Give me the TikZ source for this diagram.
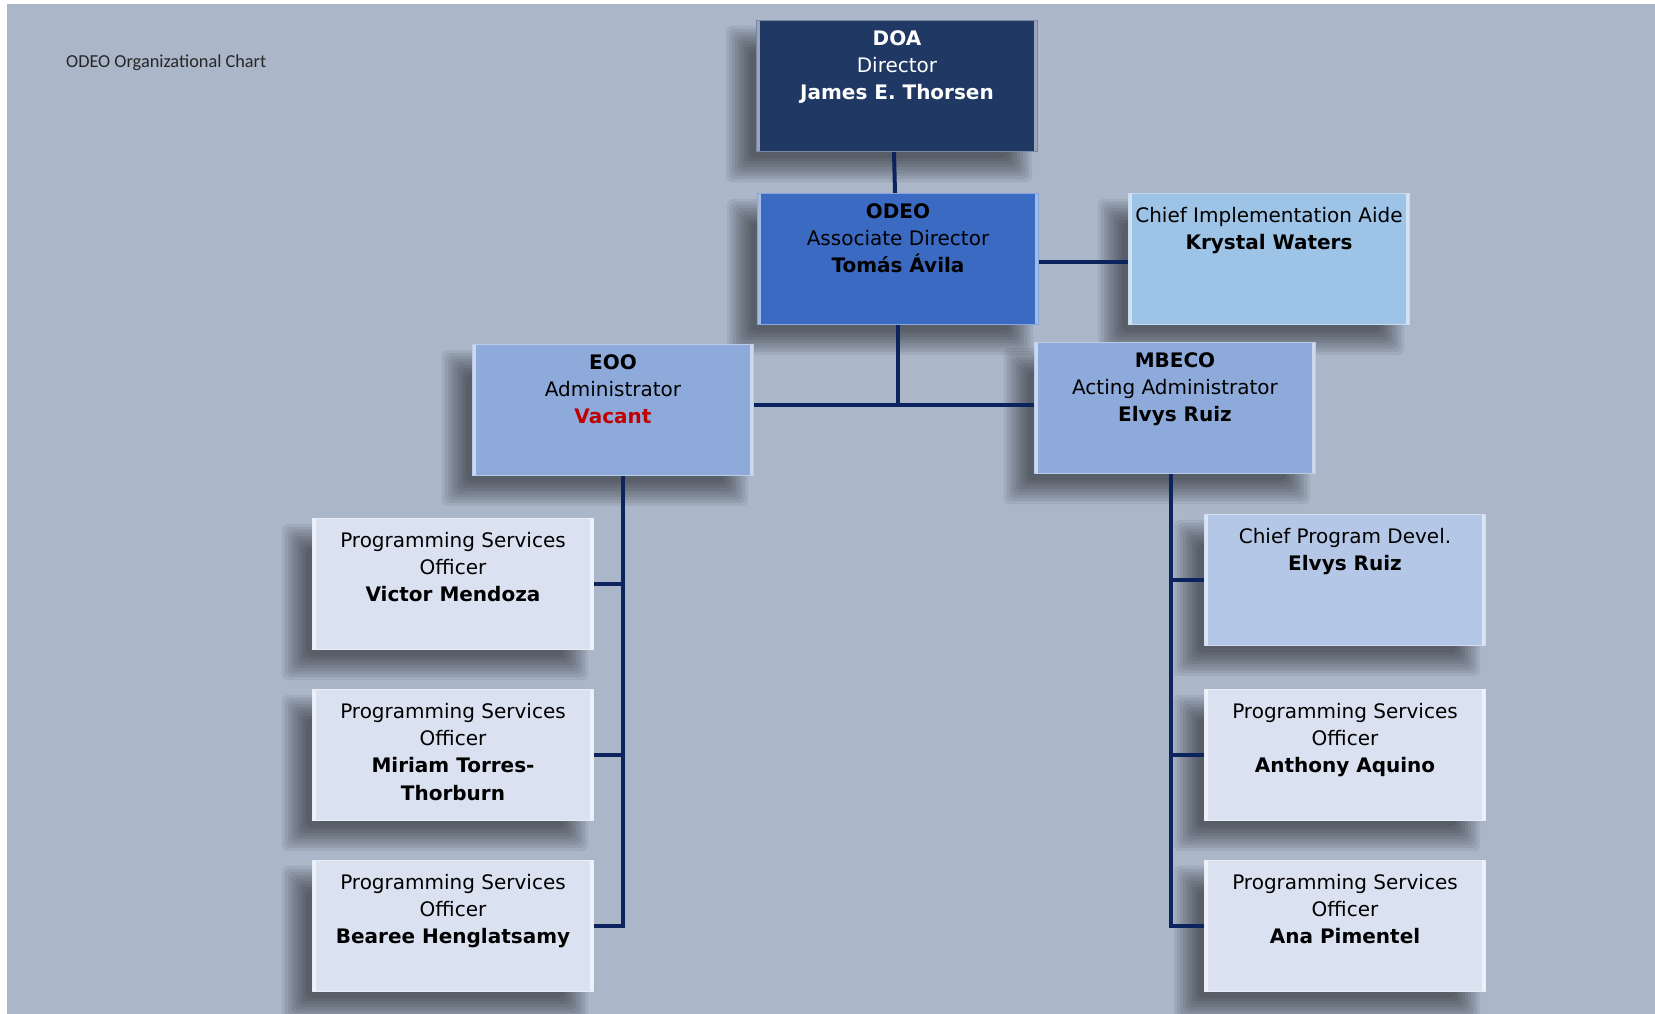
\documentclass[tikz,border=0pt]{standalone}
\usepackage{fontspec}
\setmainfont{DejaVu Sans}
\newfontfamily\titlefont{Carlito}
\usetikzlibrary{backgrounds}
\definecolor{pagebg}{RGB}{171,183,201}
\definecolor{navy}{RGB}{32,56,100}
\definecolor{midblue}{RGB}{59,106,194}
\definecolor{skyblue}{RGB}{157,195,230}
\definecolor{softblue}{RGB}{142,170,219}
\definecolor{paleblue}{RGB}{180,199,231}
\definecolor{mistblue}{RGB}{218,225,240}
\definecolor{linkblue}{RGB}{12,36,94}
\definecolor{vacantred}{RGB}{192,0,0}
\newcommand{\boxtext}[2][0pt]{\parbox[c][120pt][t]{274pt}{\centering\vspace*{#1}\strut#2\par}}

\begin{document}
\begin{tikzpicture}[x=1pt, y=-1pt,
  orgbox/.style={fill=#1, draw=#1!60!white, line width=1.2pt, minimum width=281pt, minimum height=131pt, inner sep=0pt,
    font=\fontsize{20}{27.4}\selectfont,
    path picture={
      \fill[white, opacity=0.55] (path picture bounding box.south west) rectangle ++(3.5pt,131pt);
      \fill[white, opacity=0.55] (path picture bounding box.south east) rectangle ++(-3.5pt,131pt);
    }},
  shade/.style={fill=black, opacity=0.065, rounded corners=6pt},
  link/.style={draw=linkblue, line width=4pt}
]
\useasboundingbox (0,0) rectangle (1655,1014);
\begin{scope}[on background layer]
  \fill[white] (0,0) rectangle (1655,1014);
  \fill[pagebg] (7,4) rectangle (1655,1014);
\end{scope}
\node[anchor=west, inner sep=0pt, font=\titlefont\fontsize{18.3}{22}\selectfont, text=black!85] (title) at (66,63) {ODEO Organizational Chart};

\node[orgbox=navy, text=white] (doa) at (897,86) {\boxtext{\textbf{DOA}\\Director\\\textbf{James E. Thorsen}}};
\node[orgbox=midblue] (odeo) at (898,259) {\boxtext{\textbf{ODEO}\\Associate Director\\\textbf{Tomás Ávila}}};
\node[orgbox=skyblue] (aide) at (1269,259) {\boxtext[4pt]{Chief Implementation Aide\\\textbf{Krystal Waters}}};
\node[orgbox=softblue] (eoo) at (613,410) {\boxtext{\textbf{EOO}\\Administrator\\\textcolor{vacantred}{\textbf{Vacant}}}};
\node[orgbox=softblue] (mbeco) at (1175,408) {\boxtext{\textbf{MBECO}\\Acting Administrator\\\textbf{Elvys Ruiz}}};

\node[orgbox=mistblue] (pso1) at (453,584) {\boxtext[4pt]{Programming Services\\Officer\\\textbf{Victor Mendoza}}};
\node[orgbox=mistblue] (pso2) at (453,755) {\boxtext[4pt]{Programming Services\\Officer\\\textbf{Miriam Torres-}\\\textbf{Thorburn}}};
\node[orgbox=mistblue] (pso3) at (453,926) {\boxtext[4pt]{Programming Services\\Officer\\\textbf{Bearee Henglatsamy}}};
\node[orgbox=paleblue] (cpd) at (1345,580) {\boxtext[4pt]{Chief Program Devel.\\\textbf{Elvys Ruiz}}};
\node[orgbox=mistblue] (pso4) at (1345,755) {\boxtext[4pt]{Programming Services\\Officer\\\textbf{Anthony Aquino}}};
\node[orgbox=mistblue] (pso5) at (1345,926) {\boxtext[4pt]{Programming Services\\Officer\\\textbf{Ana Pimentel}}};

\begin{scope}[on background layer]
  \foreach \n in {doa,odeo,aide,eoo,mbeco,pso1,pso2,pso3,cpd,pso4,pso5}
    \foreach \d in {0,3,...,24}
      \fill[shade] ([shift={(-6pt-\d pt,-6pt-\d pt)}]\n.south west) rectangle ([shift={(\d pt-30pt,\d pt-30pt)}]\n.north east);
\end{scope}

\coordinate (lbus) at ([xshift=10pt]eoo.south);
\coordinate (rbus) at ([xshift=-4pt]mbeco.south);
\coordinate (split) at ([yshift=5pt]odeo.south |- eoo.east);

\draw[link] ([xshift=-3pt]doa.south) -- ([xshift=-3pt]odeo.north);
\draw[link] ([yshift=-3pt]odeo.east) -- ([yshift=-3pt]aide.west);
\draw[link] (odeo.south) -- (split);
\draw[link] (eoo.east |- split) -- (mbeco.west |- split);
\draw[link] (lbus) |- (pso3.east);
\draw[link] (pso1.east) -- (pso1.east -| lbus);
\draw[link] (pso2.east) -- (pso2.east -| lbus);
\draw[link] (rbus) |- (pso5.west);
\draw[link] (cpd.west) -- (cpd.west -| rbus);
\draw[link] (pso4.west) -- (pso4.west -| rbus);
\end{tikzpicture}
\end{document}
